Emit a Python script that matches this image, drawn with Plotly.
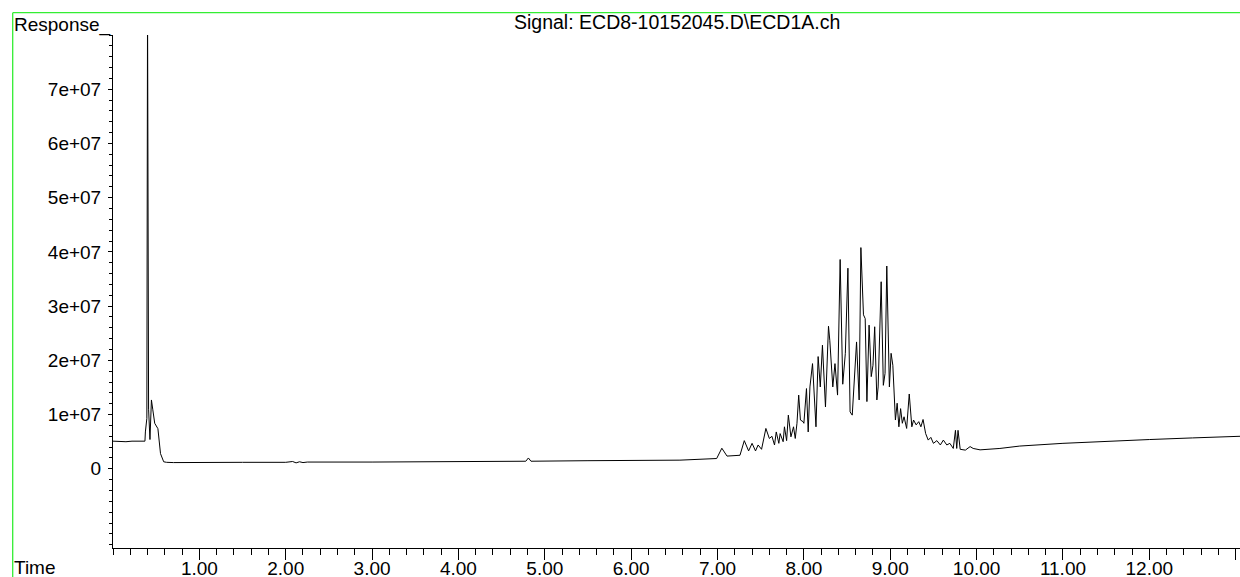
import plotly.graph_objects as go

# ---- data (retention time in minutes, detector response) ----
time_min = [
    0.00, 0.08, 0.15, 0.22, 0.30, 0.37, 0.375, 0.392, 0.400, 0.412, 0.428, 0.445,
    0.460, 0.483, 0.520, 0.550, 0.587, 0.620, 0.700, 1.00, 1.50, 2.00, 2.08, 2.12,
    2.16, 2.20, 2.25, 3.00, 4.00, 4.78, 4.81, 4.84, 5.50, 6.00, 6.565,
    6.99, 7.05, 7.11, 7.26, 7.31, 7.36, 7.40, 7.44, 7.47, 7.51, 7.56, 7.60, 7.63,
    7.66, 7.68, 7.71, 7.725, 7.76, 7.775, 7.80, 7.82, 7.85, 7.88, 7.90, 7.92, 7.94,
    7.96, 7.99, 8.00, 8.03, 8.05, 8.07, 8.10, 8.14, 8.165, 8.19, 8.215, 8.25, 8.285,
    8.30, 8.335, 8.36, 8.39, 8.42, 8.45, 8.48, 8.51, 8.535, 8.56, 8.59, 8.61, 8.64,
    8.66, 8.69, 8.71, 8.73, 8.755, 8.78, 8.80, 8.82, 8.845, 8.86, 8.895, 8.92, 8.94,
    8.96, 8.99, 9.01, 9.03, 9.06, 9.08, 9.10, 9.12, 9.14, 9.16, 9.19, 9.22, 9.25,
    9.27, 9.30, 9.33, 9.355, 9.38, 9.41, 9.44, 9.47, 9.50, 9.54, 9.58, 9.615, 9.655,
    9.69, 9.73, 9.755, 9.77, 9.785, 9.81, 9.87, 9.925, 9.96, 10.04, 10.27, 10.50,
    11.00, 11.50, 12.00, 12.50, 13.05,
]
response = [
    5.1e6, 5.05e6, 5.0e6, 5.1e6, 5.1e6, 5.1e6, 6.8e6, 9.3e6, 8.6e7, 1.1e7, 5.4e6, 1.27e7,
    1.1e7, 8.4e6, 7.4e6, 2.8e6, 1.3e6, 1.2e6, 1.15e6, 1.2e6, 1.2e6, 1.2e6, 1.35e6, 1.1e6,
    1.3e6, 1.15e6, 1.25e6, 1.25e6, 1.35e6, 1.4e6, 2.0e6, 1.4e6, 1.5e6, 1.55e6, 1.6e6,
    1.9e6, 3.8e6, 2.35e6, 2.5e6, 5.2e6, 3.3e6, 4.7e6, 3.3e6, 4.4e6, 3.6e6, 7.45e6, 5.6e6, 6.0e6,
    4.4e6, 6.8e6, 4.7e6, 6.5e6, 5.0e6, 7.75e6, 5.2e6, 9.9e6, 5.9e6, 7.75e6, 5.6e6, 8.4e6, 1.36e7,
    9.0e6, 8.7e6, 8.4e6, 1.48e7, 6.8e6, 1.51e7, 1.94e7, 7.75e6, 2.07e7, 1.51e7, 2.28e7, 1.14e7, 2.63e7,
    2.37e7, 1.51e7, 1.94e7, 1.36e7, 3.86e7, 1.56e7, 2.13e7, 3.70e7, 1.05e7, 9.9e6, 1.76e7, 2.34e7, 1.27e7,
    4.08e7, 2.84e7, 2.77e7, 1.24e7, 2.65e7, 1.70e7, 1.91e7, 2.62e7, 1.27e7, 1.51e7, 3.45e7, 1.54e7, 1.76e7,
    3.74e7, 1.51e7, 2.13e7, 1.91e7, 9.0e6, 1.21e7, 7.75e6, 1.11e7, 8.4e6, 9.6e6, 7.45e6, 1.38e7, 7.75e6,
    9.0e6, 8.1e6, 8.7e6, 7.75e6, 9.1e6, 6.5e6, 5.3e6, 5.8e6, 4.7e6, 5.2e6, 4.4e6, 5.3e6, 4.4e6,
    4.7e6, 3.76e6, 7.1e6, 3.76e6, 7.1e6, 3.6e6, 3.45e6, 4.1e6, 3.76e6, 3.5e6, 3.76e6, 4.2e6,
    4.7e6, 5.1e6, 5.4e6, 5.7e6, 6.0e6,
]

y_tick_vals = [0, 1e7, 2e7, 3e7, 4e7, 5e7, 6e7, 7e7]
y_tick_text = ["0", "1e+07", "2e+07", "3e+07", "4e+07", "5e+07", "6e+07", "7e+07"]
x_tick_vals = [1, 2, 3, 4, 5, 6, 7, 8, 9, 10, 11, 12, 13]
x_tick_text = ["1.00", "2.00", "3.00", "4.00", "5.00", "6.00", "7.00", "8.00",
               "9.00", "10.00", "11.00", "12.00", ""]

title_text = "Signal: ECD8-10152045.D\\ECD1A.ch"

# ---- layout geometry ----
W, H = 1240, 577
ML, MR, MT, MB = 113, 0, 35, 29
PW, PH = W - ML - MR, H - MT - MB
FONT = "Liberation Sans, Arial, sans-serif"
FS = 19
FS_TITLE = 19.5


def px_x(p):
    return (p - ML) / PW


def px_y(p):
    return (H - MB - p) / PH


fig = go.Figure()
fig.add_trace(go.Scatter(
    x=time_min, y=response, mode="lines",
    line=dict(color="black", width=1), hoverinfo="skip", showlegend=False,
))

fig.update_layout(
    width=W, height=H,
    margin=dict(l=ML, r=MR, t=MT, b=MB, pad=0, autoexpand=False),
    paper_bgcolor="white", plot_bgcolor="white",
    font=dict(family=FONT, size=FS, color="black"),
    showlegend=False,
    xaxis=dict(
        range=[0, 13.05], showgrid=False, zeroline=False, automargin=False,
        showline=True, linecolor="black", linewidth=1,
        tickmode="array", tickvals=x_tick_vals, ticktext=x_tick_text,
        ticks="outside", ticklen=11, tickwidth=1, tickcolor="black",
        minor=dict(dtick=0.2, tick0=0, ticks="outside", ticklen=6,
                   tickwidth=1, tickcolor="black"),
        tickfont=dict(family=FONT, size=FS, color="black"),
        ticklabelstandoff=-8,
    ),
    yaxis=dict(
        range=[-1.46e7, 8.0e7], showgrid=False, zeroline=False, automargin=False,
        showline=True, linecolor="black", linewidth=1,
        tickmode="array", tickvals=y_tick_vals, ticktext=y_tick_text,
        ticks="outside", ticklen=4, tickwidth=1, tickcolor="black",
        minor=dict(dtick=2e6, tick0=0, ticks="outside", ticklen=3,
                   tickwidth=1, tickcolor="black"),
        tickfont=dict(family=FONT, size=FS, color="black"),
        ticklabelstandoff=3,
    ),
    shapes=[
        dict(type="line", xref="paper", yref="paper",
             x0=px_x(12.7), x1=px_x(W + 5), y0=px_y(12.7), y1=px_y(12.7),
             line=dict(color="#33ee33", width=1.3)),
        dict(type="line", xref="paper", yref="paper",
             x0=px_x(12.7), x1=px_x(12.7), y0=px_y(12.7), y1=px_y(H + 5),
             line=dict(color="#33ee33", width=1.3)),
    ],
    annotations=[
        dict(text="Response_", xref="paper", yref="paper",
             x=px_x(12), y=px_y(25), xanchor="left", yanchor="middle",
             showarrow=False, font=dict(family=FONT, size=FS, color="black")),
        dict(text=title_text, xref="paper", yref="paper",
             x=0.5, y=px_y(22), xanchor="center", yanchor="middle",
             showarrow=False, font=dict(family=FONT, size=FS_TITLE, color="black")),
        dict(text="Time", xref="paper", yref="paper",
             x=px_x(12), y=px_y(567), xanchor="left", yanchor="middle",
             showarrow=False, font=dict(family=FONT, size=FS, color="black")),
    ],
)

fig.write_html(
    "out.html",
    config={"displayModeBar": False},
    post_script="document.body.style.margin='0';document.body.style.overflow='hidden';",
)
